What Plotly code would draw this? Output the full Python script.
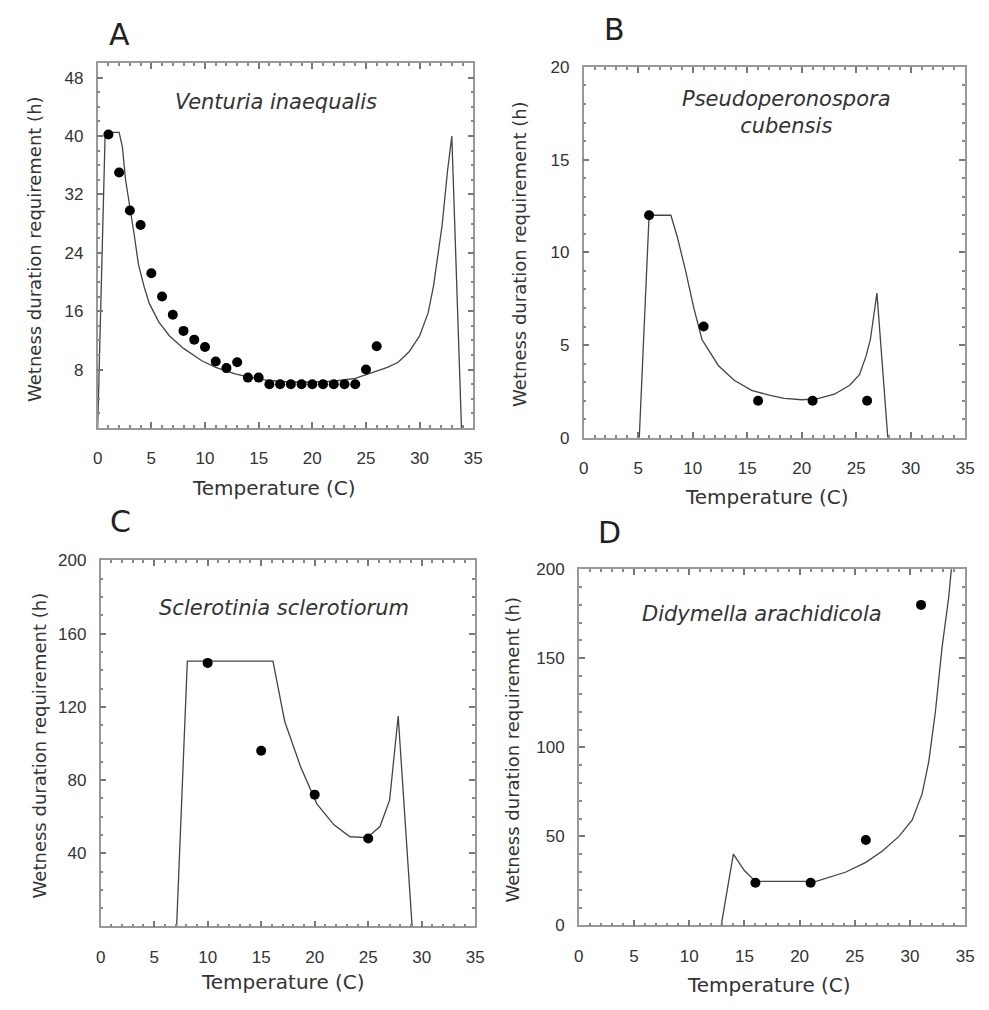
import plotly.graph_objects as go

# ---------------- data ----------------
A_pts_x = list(range(1, 27))
A_pts_y = [40.2, 35.0, 29.8, 27.8, 21.2, 18.0, 15.5, 13.3, 12.1, 11.1, 9.1, 8.2, 9.0,
           6.9, 6.9, 6.0, 6.0, 6.0, 6.0, 6.0, 6.0, 6.0, 6.0, 6.0, 8.0, 11.2]
A_curve_x = [0, 0.7, 2.0, 2.3, 2.6, 3.0, 3.4, 3.8, 4.3, 4.8, 5.7, 6.7, 8.0, 9.7, 11.0, 12.8,
             14.0, 15.9, 18.0, 20.0, 22.0, 24.0, 25.0, 26.0, 27.0, 28.0, 29.0, 30.0, 30.8,
             31.3, 31.8, 32.1, 32.6, 33.0, 33.9]
A_curve_y = [0, 40.5, 40.5, 38.5, 34.0, 30.5, 26.5, 22.4, 19.5, 17.1, 14.5, 12.6, 10.9, 9.2,
             8.3, 7.4, 7.0, 6.5, 6.3, 6.3, 6.4, 6.8, 7.3, 7.8, 8.3, 9.0, 10.4, 12.6, 15.8,
             19.5, 24.5, 27.8, 35.2, 40.0, 0]

B_pts_x = [6, 11, 16, 21, 26]
B_pts_y = [12, 6, 2, 2, 2]
B_curve_x = [5.1, 6.0, 8.0, 8.6, 9.35, 10.1, 10.85, 12.35, 13.8, 15.4, 17.0, 18.4, 20.0,
             21.4, 23.0, 24.4, 25.3, 25.9, 26.3, 26.5, 26.9, 27.9]
B_curve_y = [0, 12, 12, 10.8, 9.0, 7.0, 5.3, 3.9, 3.1, 2.56, 2.3, 2.12, 2.05, 2.1, 2.35,
             2.83, 3.4, 4.4, 5.3, 6.2, 7.8, 0]

C_pts_x = [10, 15, 20, 25]
C_pts_y = [144, 96, 72, 48]
C_curve_x = [7.1, 8.1, 16.1, 17.2, 18.7, 20.2, 21.8, 23.3, 24.9, 26.1, 27.0, 27.8, 29.1]
C_curve_y = [0, 145, 145, 112, 87, 67, 55.5, 49, 48.5, 54.6, 69, 115, 0]

D_pts_x = [16, 21, 26, 31]
D_pts_y = [24, 24, 48, 180]
D_curve_x = [12.9, 14.0, 15.0, 16.0, 21.5, 22.4, 23.5, 24.2, 26.0, 27.5, 29.0, 30.2, 31.1,
             31.7, 32.3, 32.9, 33.5, 33.8, 34.2]
D_curve_y = [0, 40, 30.8, 24.7, 24.7, 26.5, 29, 30, 35.4, 41.8, 50, 59.2, 74, 92, 120, 156,
             184, 200, 230]

A_yticks = [8, 16, 24, 32, 40, 48]
A_yticktext = ["8", "16", "24", "32", "40", "48"]
B_yticks = [0, 5, 10, 15, 20]
C_yticks = [40, 80, 120, 160, 200]
D_yticks = [0, 50, 100, 150, 200]
x_ticks = [0, 5, 10, 15, 20, 25, 30, 35]

panels = [
    dict(letter="A", name="<i>Venturia inaequalis</i>", px=A_pts_x, py=A_pts_y, cx=A_curve_x, cy=A_curve_y,
         yr=[0, 50], yt=A_yticks, ytt=A_yticktext, ydt=2),
    dict(letter="B", name="<i>Pseudoperonospora<br>cubensis</i>", px=B_pts_x, py=B_pts_y, cx=B_curve_x, cy=B_curve_y,
         yr=[0, 20], yt=B_yticks, ytt=[str(v) for v in B_yticks], ydt=1),
    dict(letter="C", name="<i>Sclerotinia sclerotiorum</i>", px=C_pts_x, py=C_pts_y, cx=C_curve_x, cy=C_curve_y,
         yr=[0, 200], yt=C_yticks, ytt=[str(v) for v in C_yticks], ydt=10),
    dict(letter="D", name="<i>Didymella arachidicola</i>", px=D_pts_x, py=D_pts_y, cx=D_curve_x, cy=D_curve_y,
         yr=[0, 200], yt=D_yticks, ytt=[str(v) for v in D_yticks], ydt=10),
]

W, H = 989, 1010
# plot boxes in pixels: left, right, top, bottom
boxes = [(94, 475, 55, 427), (587, 974, 59, 437), (97, 477, 562, 935), (582, 974, 571, 934)]
letter_pos = [(116, 26), (618, 21), (117, 522), (613, 534)]
name_pos = [(275, 95), (793, 105), (283, 610), (768, 617)]
ytitle_pos = [(30, 245), (522, 250), (35, 751), (515, 755)]
xtitle_pos = [(273, 488), (773, 497), (282, 992), (775, 995)]

FONT = "Liberation Sans, Arial, sans-serif"
WIDE = "DejaVu Sans, Liberation Sans, sans-serif"
fig = go.Figure()
layout = dict(width=W, height=H, margin=dict(l=0, r=0, t=0, b=0), showlegend=False,
              plot_bgcolor="white", paper_bgcolor="white",
              font=dict(family=FONT, size=17, color="#222"))
annotations = []
for i, p in enumerate(panels):
    n = "" if i == 0 else str(i + 1)
    xa, ya = "x" + n, "y" + n
    l, r, t, b = boxes[i]
    fig.add_trace(go.Scatter(x=p["cx"], y=p["cy"], mode="lines", xaxis=xa, yaxis=ya,
                             line=dict(color="#444", width=1.3)))
    fig.add_trace(go.Scatter(x=p["px"], y=p["py"], mode="markers", xaxis=xa, yaxis=ya,
                             marker=dict(color="black", size=10)))
    common = dict(showline=True, linecolor="#999", linewidth=1.5, mirror="allticks",
                  ticks="inside", ticklen=6, tickcolor="#777", tickwidth=1.5,
                  showgrid=False, zeroline=False, tickfont=dict(family=FONT, size=17, color="#333"))
    layout["xaxis" + n] = dict(common, domain=[l / W, r / W], range=[0, 35], anchor=ya,
                               tickvals=x_ticks, ticklabelstandoff=14,
                               minor=dict(ticks="inside", dtick=1, ticklen=3, tickcolor="#888",
                                          tickwidth=1.5))
    layout["yaxis" + n] = dict(common, domain=[1 - b / H, 1 - t / H], range=p["yr"], anchor=xa,
                               tickvals=p["yt"], ticktext=p["ytt"], ticklabelstandoff=9,
                               minor=dict(ticks="inside", dtick=p["ydt"], ticklen=3, tickcolor="#888",
                                          tickwidth=1.5))
    lx, ly = letter_pos[i]
    annotations.append(dict(text=p["letter"], x=lx / W, y=1 - ly / H, xref="paper", yref="paper",
                            showarrow=False, font=dict(family=WIDE, size=30, color="#222"),
                            xanchor="center", yanchor="middle"))
    nx, ny = name_pos[i]
    annotations.append(dict(text=p["name"], x=nx / W, y=1 - ny / H, xref="paper", yref="paper",
                            showarrow=False, font=dict(family=WIDE, size=21, color="#333"),
                            xanchor="center", yanchor="middle"))
    tx, ty = ytitle_pos[i]
    annotations.append(dict(text="Wetness duration requirement (h)", x=tx / W, y=1 - ty / H, xref="paper",
                            yref="paper", showarrow=False, textangle=-90,
                            font=dict(family=WIDE, size=18, color="#333"),
                            xanchor="center", yanchor="middle"))
    tx, ty = xtitle_pos[i]
    annotations.append(dict(text="Temperature (C)", x=tx / W, y=1 - ty / H, xref="paper",
                            yref="paper", showarrow=False, font=dict(family=WIDE, size=20, color="#333"),
                            xanchor="center", yanchor="middle"))
layout["annotations"] = annotations
fig.update_layout(**layout)
fig.write_html("out.html")
